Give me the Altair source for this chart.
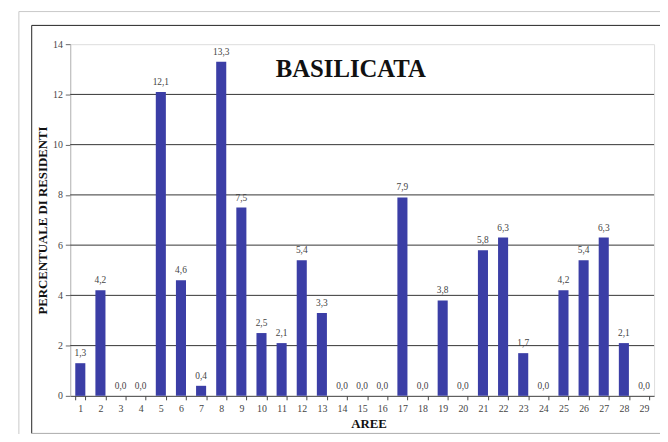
import altair as alt
import pandas as pd

aree = [str(i) for i in range(1, 30)]
valori = [1.3, 4.2, 0.0, 0.0, 12.1, 4.6, 0.4, 13.3, 7.5, 2.5, 2.1, 5.4, 3.3, 0.0, 0.0,
          0.0, 7.9, 0.0, 3.8, 0.0, 5.8, 6.3, 1.7, 0.0, 4.2, 5.4, 6.3, 2.1, 0.0]
griglia = [2, 4, 6, 8, 10, 12]
y_ticks = [0, 2, 4, 6, 8, 10, 12, 14]

df = pd.DataFrame({
    "area": aree,
    "valore": valori,
    "etichetta": [f"{v:.1f}".replace(".", ",") for v in valori],
})
grid_df = pd.DataFrame({"g": griglia})

FONT = "Liberation Serif, Times New Roman, serif"
W, H = 591, 356
one = pd.DataFrame({"k": [0]})

xenc = alt.X("area:N", sort=aree, title="AREE",
             scale=alt.Scale(paddingInner=0.5, paddingOuter=0.25),
             axis=alt.Axis(labelAngle=0, labelFont=FONT, labelFontSize=10, labelColor="#444",
                           domainColor="#444", tickColor="#444", tickSize=4, tickBand="extent",
                           labelPadding=4, titleFont=FONT, titleFontSize=13, titleFontWeight="bold",
                           titleColor="#111", titlePadding=4, titleX=302, grid=False))
yscale = alt.Scale(domain=[0, 14], nice=False)

outer = alt.Chart(one).mark_rect(fill=None, stroke="#c8c8c8", strokeWidth=1).encode(
    x=alt.value(-52), x2=alt.value(640), y=alt.value(-33), y2=alt.value(420)
)
inner_top = alt.Chart(one).mark_rule(color="#222", strokeWidth=1).encode(
    x=alt.value(-39), x2=alt.value(640), y=alt.value(-19)
)
inner_left = alt.Chart(one).mark_rule(color="#222", strokeWidth=1).encode(
    x=alt.value(-39), y=alt.value(-19), y2=alt.value(394)
)
inner_bottom = alt.Chart(one).mark_rule(color="#aaa", strokeWidth=1).encode(
    x=alt.value(-39), x2=alt.value(640), y=alt.value(394)
)

grid = alt.Chart(grid_df).mark_rule(color="#333", strokeWidth=1).encode(
    y=alt.Y("g:Q", scale=yscale)
)

bars = alt.Chart(df).mark_bar(color="#3b3ea6").encode(
    x=xenc,
    y=alt.Y("valore:Q", scale=yscale, title="PERCENTUALE DI RESIDENTI",
            axis=alt.Axis(values=y_ticks, grid=False, labelFont=FONT, labelFontSize=10,
                          labelColor="#444", domainColor="#bbb", tickColor="#666", tickSize=5,
                          labelPadding=3, titleFont=FONT, titleFontSize=13, titleFontWeight="bold",
                          titleColor="#111", titlePadding=3)),
)

labels = alt.Chart(df).mark_text(font=FONT, fontSize=9.5, color="#444", dy=-10).encode(
    x=alt.X("area:N", sort=aree),
    y=alt.Y("valore:Q", scale=yscale),
    text="etichetta:N",
)

title = alt.Chart(pd.DataFrame({"t": ["BASILICATA"]})).mark_text(
    font=FONT, fontSize=25, fontWeight="bold", color="#111"
).encode(x=alt.value(284), y=alt.value(25), text="t:N")

chart = alt.layer(outer, inner_top, inner_left, inner_bottom, grid, bars, labels, title).properties(
    width=W, height=H,
    autosize=alt.AutoSizeParams(type="none"),
    padding={"left": 63, "top": 34, "right": 6, "bottom": 36},
).configure_view(stroke="#c8c8c8", strokeWidth=1).configure(background="white")

chart.save("out.html", embed_options={"renderer": "svg", "actions": False})
